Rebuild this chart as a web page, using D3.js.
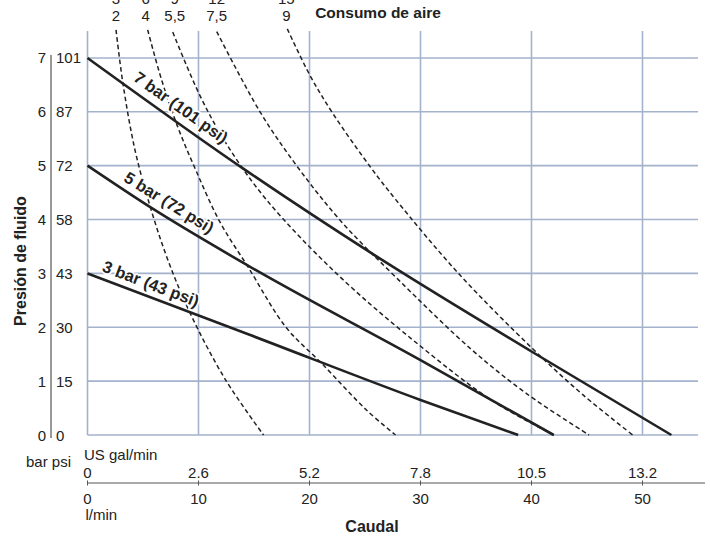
<!DOCTYPE html>
<html>
<head>
<meta charset="utf-8">
<script src="https://cdn.jsdelivr.net/npm/d3@7"></script>
<style>
  html, body { margin: 0; padding: 0; background: #fff; }
  .num { font-family: "Liberation Sans Narrow", "Arial Narrow", sans-serif; font-size: 15px; fill: #222; }
  .bold { font-family: "Liberation Sans", Arial, sans-serif; font-weight: bold; font-size: 16px; fill: #222; }
</style>
</head>
<body>
<script>
// ---- data ----
const flowLmin = [0, 10, 20, 30, 40, 50];
const flowGal = ["0", "2.6", "5.2", "7.8", "10.5", "13.2"];
const barTicks = [0, 1, 2, 3, 4, 5, 6, 7];
const psiTicks = ["0", "15", "30", "43", "58", "72", "87", "101"];
const airTopLabels = ["3", "6", "9", "12", "15"];
const airBottomLabels = ["2", "4", "5,5", "7,5", "9"];
const lineLabels = ["7 bar (101 psi)", "5 bar (72 psi)", "3 bar (43 psi)"];

// fluid pressure lines (x = l/min, y = bar)
const line7bar = [[0, 7], [14, 4.95], [26, 3.32], [40, 1.55], [52.6, 0]];
const line5bar = [[0, 5], [5.8, 4.21], [14.5, 3.14], [30, 1.39], [42, 0]];
const line3bar = [[0, 3], [14.6, 1.86], [30, 0.65], [38.8, 0]];

// air consumption curves (x = l/min, y = bar)
const air1 = [[2.57, 7.52], [3.19, 6.53], [4.28, 5.29], [5.69, 4.21], [7.24, 3.25], [9.25, 2.26], [12.45, 1.02], [15.86, 0]];
const air2 = [[5.42, 7.52], [6.68, 6.59], [8.13, 5.72], [9.75, 4.92], [11.94, 3.95], [14.46, 3.12], [17.88, 2.0], [21.1, 1.33], [25.15, 0.46], [27.75, 0]];
const air3 = [[7.68, 7.48], [10.11, 6.31], [12.59, 5.38], [16.15, 4.36], [22.42, 3.0], [29.75, 1.69], [36.52, 0.63], [42.02, 0]];
const air4 = [[11.64, 7.49], [15.54, 6.0], [18.91, 4.98], [22.87, 3.96], [28.02, 2.88], [34.58, 1.59], [39.61, 0.76], [45.18, 0]];
const air5 = [[18.0, 7.54], [20.03, 6.68], [22.1, 5.97], [25.47, 4.98], [27.81, 4.36], [33.42, 3.0], [40.11, 1.6], [44.67, 0.74], [49.12, 0]];

const airCurves = [air1, air2, air3, air4, air5];
const pressureLines = [line7bar, line5bar, line3bar];

// ---- layout ----
const W = 710, H = 537;
const x = d3.scaleLinear().domain([0, 55]).range([87.5, 698]);
const y = d3.scaleLinear().domain([0, 7.5]).range([435, 31]);
const gridColor = "#a4b2cc";

const svg = d3.select("body").append("svg").attr("width", W).attr("height", H);

// grid
const grid = svg.append("g");
grid.selectAll("line.h").data(barTicks).join("line")
  .attr("x1", x(0)).attr("x2", x(55))
  .attr("y1", d => y(d)).attr("y2", d => y(d))
  .attr("stroke", gridColor).attr("stroke-width", 1.6);
grid.selectAll("line.v").data(flowLmin).join("line")
  .attr("x1", d => x(d)).attr("x2", d => x(d))
  .attr("y1", y(7.5)).attr("y2", y(0))
  .attr("stroke", gridColor).attr("stroke-width", 1.6);

// air consumption curves
const airGen = d3.line().x(d => x(d[0])).y(d => y(d[1])).curve(d3.curveCatmullRom.alpha(0.5));
svg.append("g").selectAll("path").data(airCurves).join("path")
  .attr("d", airGen)
  .attr("fill", "none").attr("stroke", "#222").attr("stroke-width", 1.5)
  .attr("stroke-dasharray", "4.5,3");

// pressure lines
const pGen = d3.line().x(d => x(d[0])).y(d => y(d[1])).curve(d3.curveMonotoneX);
svg.append("g").selectAll("path").data(pressureLines).join("path")
  .attr("d", pGen)
  .attr("fill", "none").attr("stroke", "#222").attr("stroke-width", 2.6);

// line labels along lines
const labelAt = [7.7, 6.7, 5.3];
const labelOffset = [-8, -8, -7];
pressureLines.forEach((pts, i) => {
  const interp = (xv) => {
    for (let k = 0; k < pts.length - 1; k++) {
      const a = pts[k], b = pts[k + 1];
      if (xv >= a[0] && xv <= b[0]) return a[1] + (b[1] - a[1]) * (xv - a[0]) / (b[0] - a[0]);
    }
    return pts[pts.length - 1][1];
  };
  const xv = labelAt[i];
  const px = x(xv), py = y(interp(xv));
  const p1 = [x(xv - 2), y(interp(Math.max(0, xv - 2)))], p2 = [x(xv + 2), y(interp(xv + 2))];
  const ang = Math.atan2(p2[1] - p1[1], p2[0] - p1[0]) * 180 / Math.PI;
  svg.append("text").attr("class", "bold")
    .style("font-size", "16.5px")
    .attr("transform", `translate(${px},${py}) rotate(${ang})`)
    .attr("y", labelOffset[i])
    .attr("text-anchor", "middle")
    .attr("stroke", "#fff").attr("stroke-width", 3.5).attr("paint-order", "stroke")
    .attr("stroke-linejoin", "round")
    .text(lineLabels[i]);
});

// left axis
svg.append("line").attr("x1", 51).attr("x2", 51).attr("y1", y(7) - 3).attr("y2", y(0) + 3)
  .attr("stroke", "#333").attr("stroke-width", 1);
svg.append("g").selectAll("text").data(barTicks).join("text").attr("class", "num")
  .attr("x", 46).attr("y", d => y(d) + 5.5).attr("text-anchor", "end").text(d => d);
svg.append("g").selectAll("text").data(barTicks).join("text").attr("class", "num")
  .attr("x", 56).attr("y", d => y(d) + 5.5).attr("text-anchor", "start").text((d, i) => psiTicks[i]);
svg.append("text").attr("class", "bold")
  .attr("transform", `translate(26,${y(3.23)}) rotate(-90)`)
  .attr("text-anchor", "middle").text("Presión de fluido");

// top: air consumption labels
const airLabelX = airCurves.map(c => c[0][0]);
const airLabelShift = [0, -2, 2, 0, -1];
svg.append("g").selectAll("text").data(airTopLabels).join("text").attr("class", "num")
  .attr("x", (d, i) => x(airLabelX[i]) + airLabelShift[i]).attr("y", 4).attr("text-anchor", "middle").text(d => d);
svg.append("g").selectAll("text").data(airBottomLabels).join("text").attr("class", "num")
  .attr("x", (d, i) => x(airLabelX[i]) + airLabelShift[i]).attr("y", 21).attr("text-anchor", "middle").text(d => d);
svg.append("text").attr("class", "bold").style("font-size", "15.5px")
  .attr("x", 378).attr("y", 18).attr("text-anchor", "middle").text("Consumo de aire");

// bottom axis
svg.append("line").attr("x1", x(0)).attr("x2", 705).attr("y1", 483).attr("y2", 483)
  .attr("stroke", "#555").attr("stroke-width", 1.2);
svg.append("g").selectAll("line").data(flowLmin).join("line")
  .attr("x1", d => x(d)).attr("x2", d => x(d)).attr("y1", 480.5).attr("y2", 485.5)
  .attr("stroke", "#555").attr("stroke-width", 1);
svg.append("g").selectAll("text").data(flowLmin).join("text").attr("class", "num")
  .attr("x", d => x(d)).attr("y", 478).attr("text-anchor", "middle").text((d, i) => flowGal[i]);
svg.append("g").selectAll("text").data(flowLmin).join("text").attr("class", "num")
  .attr("x", d => x(d)).attr("y", 504).attr("text-anchor", "middle").text(d => d);
svg.append("text").attr("class", "num").attr("x", x(0) - 2).attr("y", 520).text("l/min");
svg.append("text").attr("class", "num").attr("x", 84).attr("y", 460).text("US gal/min");
svg.append("text").attr("class", "num").attr("x", 26).attr("y", 467).text("bar psi");
svg.append("text").attr("class", "bold").attr("x", 372).attr("y", 532).attr("text-anchor", "middle").text("Caudal");
</script>
</body>
</html>
